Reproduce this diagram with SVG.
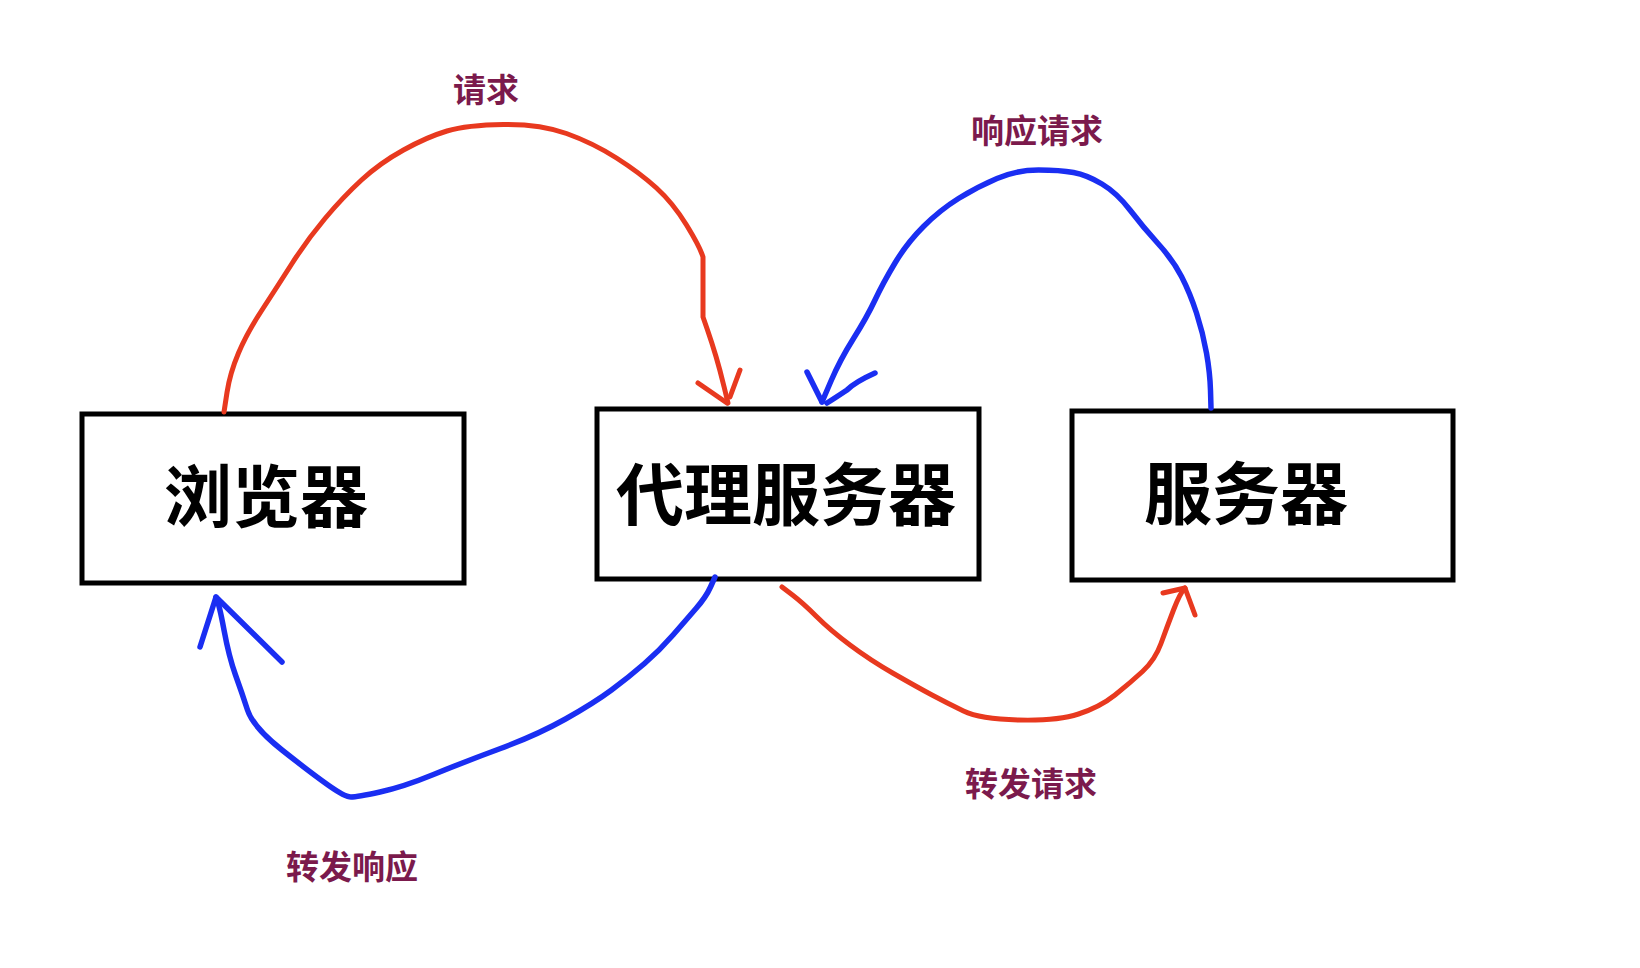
<svg xmlns="http://www.w3.org/2000/svg" width="1640" height="968" viewBox="0 0 1640 968">
<style>
.box{fill:#fff;stroke:#000;stroke-width:5}
.nt{font-family:"Noto Sans CJK SC","Noto Sans",sans-serif;font-weight:bold;font-size:68px;fill:#000;text-anchor:middle;dominant-baseline:central}
.lb{font-family:"Noto Sans CJK SC","Noto Sans",sans-serif;font-weight:bold;font-size:33px;fill:#7b1a4c;text-anchor:middle;dominant-baseline:central}
.red{fill:none;stroke:#e8391f;stroke-width:5;stroke-linecap:round;stroke-linejoin:round}
.blue{fill:none;stroke:#1a2ef2;stroke-width:5.5;stroke-linecap:round;stroke-linejoin:round}
</style>
<rect width="1640" height="968" fill="#fff"/>
<g id="browser">
<rect class="box" x="82" y="414" width="382" height="169"/>
<text class="nt" x="266" y="492">浏览器</text>
</g>
<g id="proxy">
<rect class="box" x="597" y="409" width="382" height="170"/>
<text class="nt" x="786" y="490">代理服务器</text>
</g>
<g id="server">
<rect class="box" x="1072" y="411" width="381" height="169"/>
<text class="nt" x="1246" y="489">服务器</text>
</g>
<g id="connectors">
<path class="red" d="M224,412 L227,392.5 Q230,373 238.5,353 Q247,333 262,310 Q277,287 292,263.5 Q307,240 325,218.5 Q343,197 361.5,180 Q380,163 403.5,150 Q427,137 447,131 Q467,125 503.5,124.5 Q540,124 566.5,133.5 Q593,143 616.5,158 Q640,173 656.5,188 Q673,203 686.5,225 Q700,247 703,257 L703,317 L707.5,330 Q712,343 716,356.5 Q720,370 724,386.5 L728,403"/>
<path class="red" d="M698,383 L727,403 M740,370 L730,397"/>
<path class="blue" d="M1211,408 L1210.5,390.5 Q1210,373 1206.5,353 Q1203,333 1196.5,313 Q1190,293 1181.5,276.5 Q1173,260 1158,243.5 Q1143,227 1130,210 Q1117,193 1102,184 Q1087,175 1073.5,172.5 Q1060,170 1038.5,170 Q1017,170 997,178.5 Q977,187 958.5,198.5 Q940,210 923.5,226.5 Q907,243 895,263 Q883,283 875,300 Q867,317 853.5,338.5 Q840,360 831,381 L822,402"/>
<path class="blue" d="M807,372 L822,402 M875,373 Q855,382 847,390 Q835,398 827,403"/>
<path class="blue" d="M715,577 L710.5,587 Q706,597 696,608.5 Q686,620 673,635 Q660,650 644.5,663.5 Q629,677 611.5,690 Q594,703 565.5,719 Q537,735 500.5,748.5 Q464,762 433.5,774.5 Q403,787 380,792 Q357,797 351,797 Q345,797 328,785 Q311,773 282,750 Q253,727 247.5,710 Q242,693 235.5,675 Q229,657 224,630 Q219,603 216,597"/>
<path class="blue" d="M200,647 L216,597 L282,662"/>
<path class="red" d="M782,587 L792.5,595 Q803,603 816.5,616.5 Q830,630 850,645 Q870,660 893.5,673.5 Q917,687 932,695 Q947,703 963.5,711 Q980,719 1018.5,720 Q1057,721 1078.5,714 Q1100,707 1115,695 Q1130,683 1142.5,671.5 Q1155,660 1161,643.5 Q1167,627 1173.5,610 Q1180,593 1185,588"/>
<path class="red" d="M1163,593 L1185,588 L1195,615"/>
</g>
<g id="labels">
<text class="lb" x="486" y="88">请求</text>
<text class="lb" x="1037" y="129">响应请求</text>
<text class="lb" x="1031" y="782">转发请求</text>
<text class="lb" x="352" y="865">转发响应</text>
</g>
</svg>
